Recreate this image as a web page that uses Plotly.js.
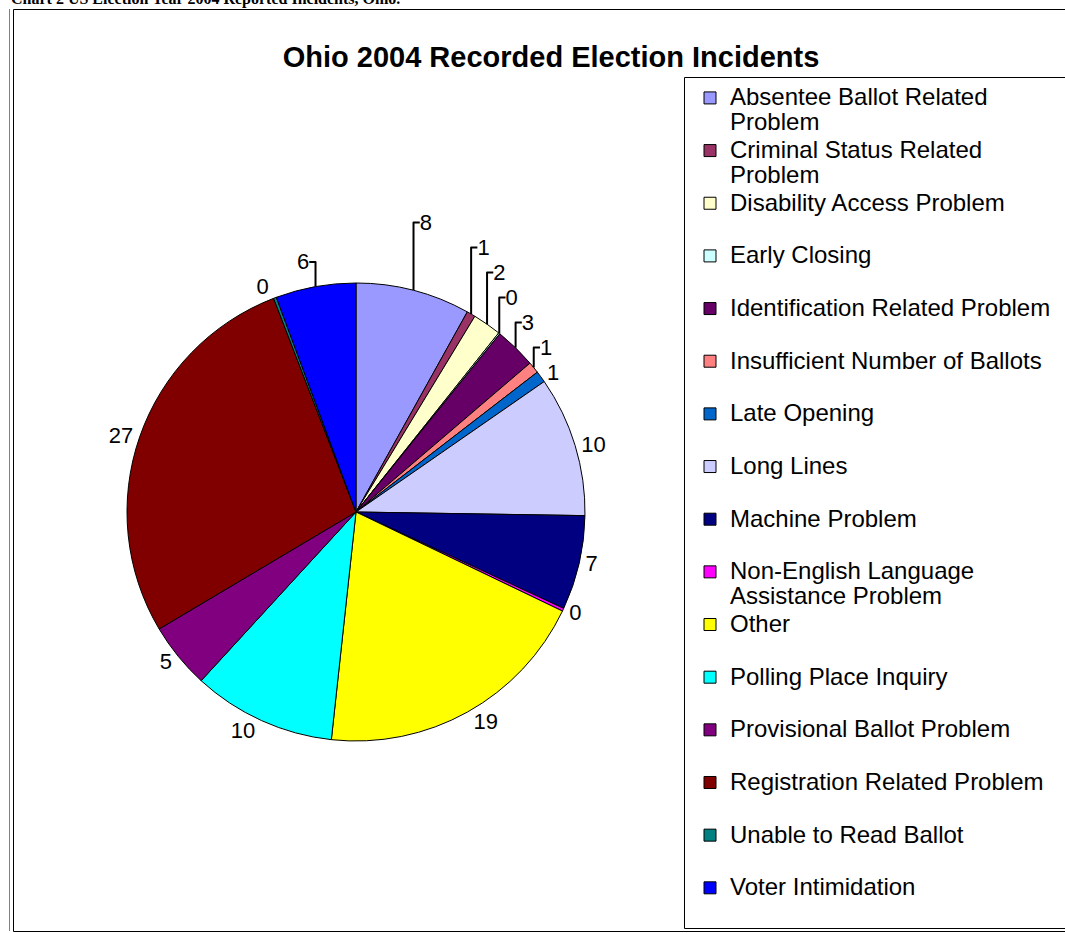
<!DOCTYPE html>
<html>
<head>
<meta charset="utf-8">
<script src="https://cdn.plot.ly/plotly-3.0.1.min.js"></script>
<style>
  html, body { margin: 0; padding: 0; background: #ffffff; }
  #chart { width: 1065px; height: 933px; }
</style>
</head>
<body>
<div id="chart"></div>
<script>
// Categories (legend order); a second line keeps every entry two lines tall
const categories = [
  "Absentee Ballot Related<br>Problem",
  "Criminal Status Related<br>Problem",
  "Disability Access Problem<br> ",
  "Early Closing<br> ",
  "Identification Related Problem<br> ",
  "Insufficient Number of Ballots<br> ",
  "Late Opening<br> ",
  "Long Lines<br> ",
  "Machine Problem<br> ",
  "Non-English Language<br>Assistance Problem",
  "Other<br> ",
  "Polling Place Inquiry<br> ",
  "Provisional Ballot Problem<br> ",
  "Registration Related Problem<br> ",
  "Unable to Read Ballot<br> ",
  "Voter Intimidation"
];
// Values (labels show them rounded)
const values = [8, 0.6, 2, 0.1, 2.9, 0.8, 0.8, 9.8, 6.6, 0.2, 19.4, 10, 4.6, 27.4, 0.2, 5.6];
const colors = [
  "#9999FF", "#993366", "#FFFFCC", "#CCFFFF", "#660066", "#FF8080",
  "#0066CC", "#CCCCFF", "#000080", "#FF00FF", "#FFFF00", "#00FFFF",
  "#800080", "#800000", "#008080", "#0000FF"
];
const chartTitle = "Ohio 2004 Recorded Election Incidents";
const pageHeader = "Chart 2 US Election Year 2004 Reported Incidents, Ohio.";

const W = 1065, H = 933;
const cx = 356, cy = 512, r = 229;
const FONT = "Liberation Sans, Arial, sans-serif";

// legend text drawn at 24px while line metrics use the smaller legend font
const legendLabels = categories.map(function (c) {
  return c.split("<br>").map(function (s) {
    return '<span style="font-size:24px">' + s + '</span>';
  }).join("<br>");
});

const trace = {
  type: "pie",
  labels: legendLabels,
  values: values,
  sort: false,
  direction: "clockwise",
  rotation: 0,
  marker: { colors: colors, line: { color: "#000000", width: 1 } },
  textposition: "outside",
  texttemplate: "%{value:.0f}",
  textfont: { family: FONT, size: 22, color: "#000000" },
  outsidetextfont: { family: FONT, size: 22, color: "#000000" },
  automargin: false,
  hovertemplate: "%{value}<extra></extra>",
  domain: {
    x: [(cx - r) / W, (cx + r) / W],
    y: [(H - cy - r) / H, (H - cy + r) / H]
  }
};

const layout = {
  width: W,
  height: H,
  margin: { l: 0, r: 0, t: 0, b: 0, pad: 0, autoexpand: false },
  paper_bgcolor: "#ffffff",
  plot_bgcolor: "#ffffff",
  font: { family: FONT, size: 20, color: "#000000" },
  title: {
    text: "<b>" + chartTitle + "</b>",
    font: { family: FONT, size: 29, color: "#000000" },
    x: 551 / W, xanchor: "center",
    y: 1 - 57 / H, yanchor: "middle",
    xref: "paper", yref: "paper"
  },
  showlegend: true,
  legend: {
    x: 690 / W, xanchor: "left",
    y: 1 - 79 / H, yanchor: "top",
    font: { family: FONT, size: 19.1, color: "#000000" },
    bgcolor: "rgba(0,0,0,0)",
    borderwidth: 0,
    valign: "top",
    traceorder: "normal",
    maxheight: 3000,
    itemclick: false,
    itemdoubleclick: false
  },
  annotations: [{
    text: "<b>" + pageHeader + "</b>",
    xref: "paper", yref: "paper",
    x: 9 / W, xanchor: "left",
    y: 1 + 1 / H, yanchor: "middle",
    showarrow: false,
    font: { family: "Liberation Serif, Times New Roman, serif", size: 16, color: "#000000" }
  }],
  shapes: [
    { type: "line", xref: "paper", yref: "paper",
      x0: 9.5 / W, x1: 9.5 / W, y0: 1 - 9 / H, y1: 1 - 931 / H,
      line: { color: "#808080", width: 1 } },
    { type: "rect", xref: "paper", yref: "paper",
      x0: 13.5 / W, x1: 1070 / W, y0: 1 - 9.5 / H, y1: 1 - 931.5 / H,
      line: { color: "#000000", width: 1 } },
    { type: "rect", xref: "paper", yref: "paper",
      x0: 684.5 / W, x1: 1070 / W, y0: 1 - 77.5 / H, y1: 1 - 928.5 / H,
      line: { color: "#000000", width: 1 } }
  ]
};

Plotly.newPlot("chart", [trace], layout, { displayModeBar: false });
</script>
</body>
</html>
